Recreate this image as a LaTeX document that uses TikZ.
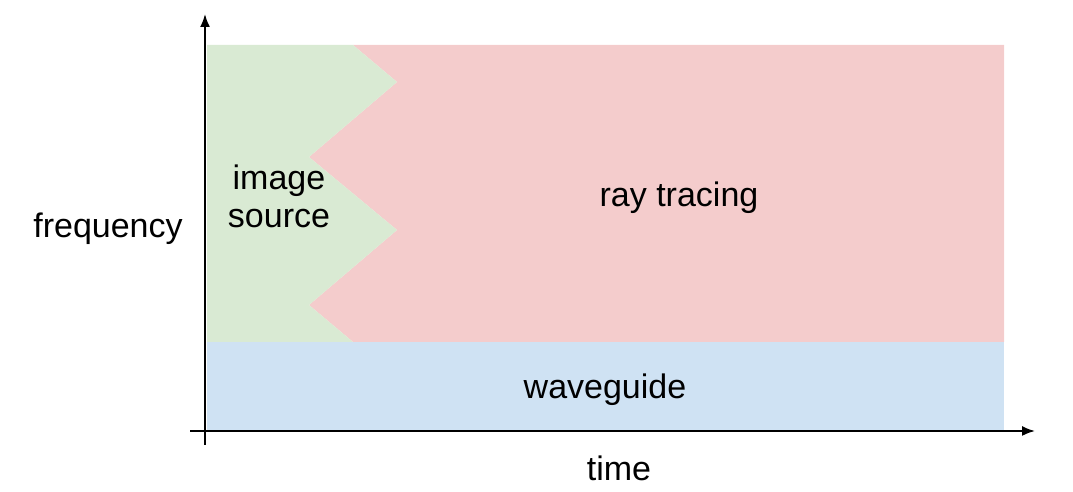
\documentclass[tikz,border=0pt]{standalone}
\usepackage{fontspec}
\setmainfont{Liberation Sans}
\usetikzlibrary{arrows.meta,positioning}
\definecolor{isgreen}{HTML}{D9EAD3}
\definecolor{rtred}{HTML}{F4CCCC}
\definecolor{wgblue}{HTML}{CFE2F3}
\tikzset{axis/.style={line width=1.8pt,-{Latex[length=13pt,width=10pt]}},
  label/.style={font=\fontsize{34}{38}\selectfont,align=center}}

\begin{document}
\begin{tikzpicture}[x=1pt,y=1pt]

\useasboundingbox (0,0) rectangle (1073,492);

% Corners
\coordinate (top-left) at (207,447);
\coordinate (top-right) at (1004,447);
\coordinate (mid-left) at (207,150);
\coordinate (mid-right) at (1004,150);
\coordinate (bottom-left) at (207,61);
\coordinate (bottom-right) at (1004,61);

% The zigzag border
\coordinate (zig1) at (353,447);
\coordinate (zig2) at (397,410);
\coordinate (zig3) at (309,335);
\coordinate (zig4) at (397,262);
\coordinate (zig5) at (309,187);
\coordinate (zig6) at (353,150);

% The regions
\fill[wgblue] (bottom-left) rectangle (mid-right);
\fill[rtred] (zig1) -- (top-right) -- (mid-right) -- (zig6) -- (zig5) -- (zig4) -- (zig3) -- (zig2) -- cycle;
\fill[isgreen] (top-left) -- (zig1) -- (zig2) -- (zig3) -- (zig4) -- (zig5) -- (zig6) -- (mid-left) -- cycle;

% The axes
\coordinate (ystart) at (205,47);
\coordinate (ytip) at (205,478);
\coordinate (xstart) at (190,61);
\coordinate (xtip) at (1035,61);
\draw[axis] (ystart) -- (ytip);
\draw[axis] (xstart) -- (xtip);

% Labels
\node[label] (freq) at (108,263) {frequency};
\node[label] (time) at (619,24) {time};
\node[label] (imgsrc) at (279,296) {image\\source};
\node[label] (raytr) at (679,294) {ray tracing};
\node[label] (waveg) at (605,102) {waveguide};

\end{tikzpicture}
\end{document}
